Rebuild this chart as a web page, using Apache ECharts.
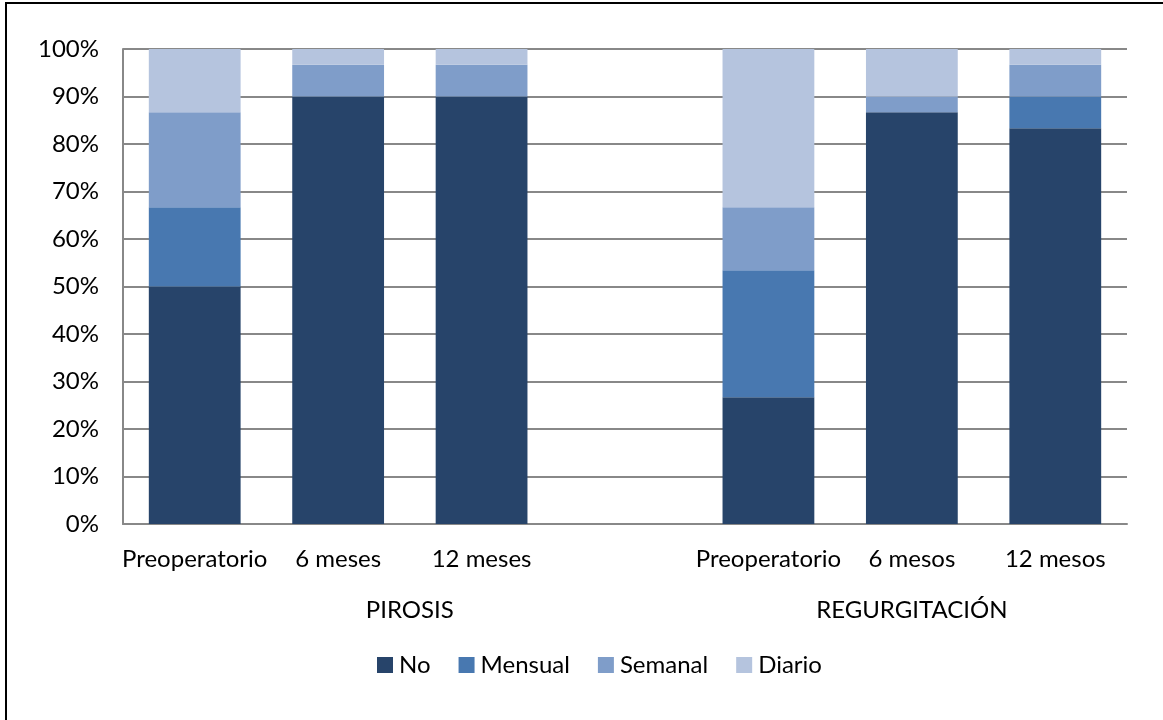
<!DOCTYPE html>
<html>
<head>
<meta charset="utf-8">
<script src="https://cdn.jsdelivr.net/npm/echarts@6/dist/echarts.min.js"></script>
<style>
  html, body { margin: 0; padding: 0; background: #fff; }
  #frame { position: absolute; left: 5px; top: 2px; width: 1170px; height: 730px; border: 2px solid #000; box-sizing: border-box; }
  #chart { position: absolute; left: 0; top: 0; width: 1163px; height: 720px; }
</style>
</head>
<body>
<div id="frame"></div>
<div id="chart"></div>
<script>
  // categorias (la quinta va vacia, separa los dos grupos)
  const categories = ['Preoperatorio', '6 meses', '12 meses', '', 'Preoperatorio', '6 mesos', '12 mesos'];
  const groups = ['PIROSIS', 'REGURGITACIÓN'];
  const groupRanges = [[0, 3], [4, 6]]; // indices de categoria que abarca cada grupo

  // porcentajes
  const no      = [50.0, 90.0, 90.0, null, 26.7, 86.7, 83.3];
  const mensual = [16.7,  0.0,  0.0, null, 26.7,  0.0,  6.7];
  const semanal = [20.0,  6.7,  6.7, null, 13.3,  3.3,  6.7];
  const diario  = [13.3,  3.3,  3.3, null, 33.3, 10.0,  3.3];

  const seriesNames = ['No', 'Mensual', 'Semanal', 'Diario'];
  const seriesData = [no, mensual, semanal, diario];
  const colors = ['#27446a', '#4878b0', '#7f9dc9', '#b5c4de'];

  const FONT = 'Lato, "Open Sans", sans-serif';
  const FS = 24;

  const chart = echarts.init(document.getElementById('chart'));

  const option = {
    animation: false,
    color: colors,
    grid: { left: 123, right: 36, top: 49, bottom: 196, containLabel: false },
    legend: {
      data: seriesNames,
      top: 648,
      left: 372,
      itemWidth: 16,
      itemHeight: 16,
      itemGap: 28,
      icon: 'rect',
      textStyle: { color: '#000', fontSize: FS, fontFamily: FONT, padding: [0, 0, 0, 1] }
    },
    xAxis: {
      type: 'category',
      data: categories,
      axisTick: { show: false },
      axisLine: { lineStyle: { color: '#888', width: 2 } },
      axisLabel: { color: '#000', fontSize: FS, fontFamily: FONT, margin: 23, interval: 0 }
    },
    yAxis: {
      type: 'value',
      min: 0,
      max: 100,
      interval: 10,
      axisLine: { show: true, lineStyle: { color: '#888', width: 2 } },
      axisTick: { show: false },
      splitLine: { lineStyle: { color: '#888', width: 2 } },
      axisLabel: { formatter: '{value}%', color: '#000', fontSize: FS, fontFamily: FONT, margin: 24 }
    },
    series: seriesData.map((d, i) => ({
      name: seriesNames[i],
      type: 'bar',
      stack: 'total',
      data: d,
      barCategoryGap: '36%',
      itemStyle: { color: colors[i] }
    }))
  };

  chart.setOption(option);

  // etiquetas de grupo debajo de las categorias
  const px = idx => chart.convertToPixel({ xAxisIndex: 0 }, idx);
  const half = (px(1) - px(0)) / 2;
  const groupText = groups.map((g, i) => ({
    type: 'text',
    x: ((px(groupRanges[i][0]) - half) + (px(groupRanges[i][1]) + half)) / 2,
    y: 610,
    style: { text: g, fill: '#000', font: FS + 'px ' + FONT, textAlign: 'center', textVerticalAlign: 'middle' }
  }));
  chart.setOption({ graphic: groupText });
</script>
</body>
</html>
